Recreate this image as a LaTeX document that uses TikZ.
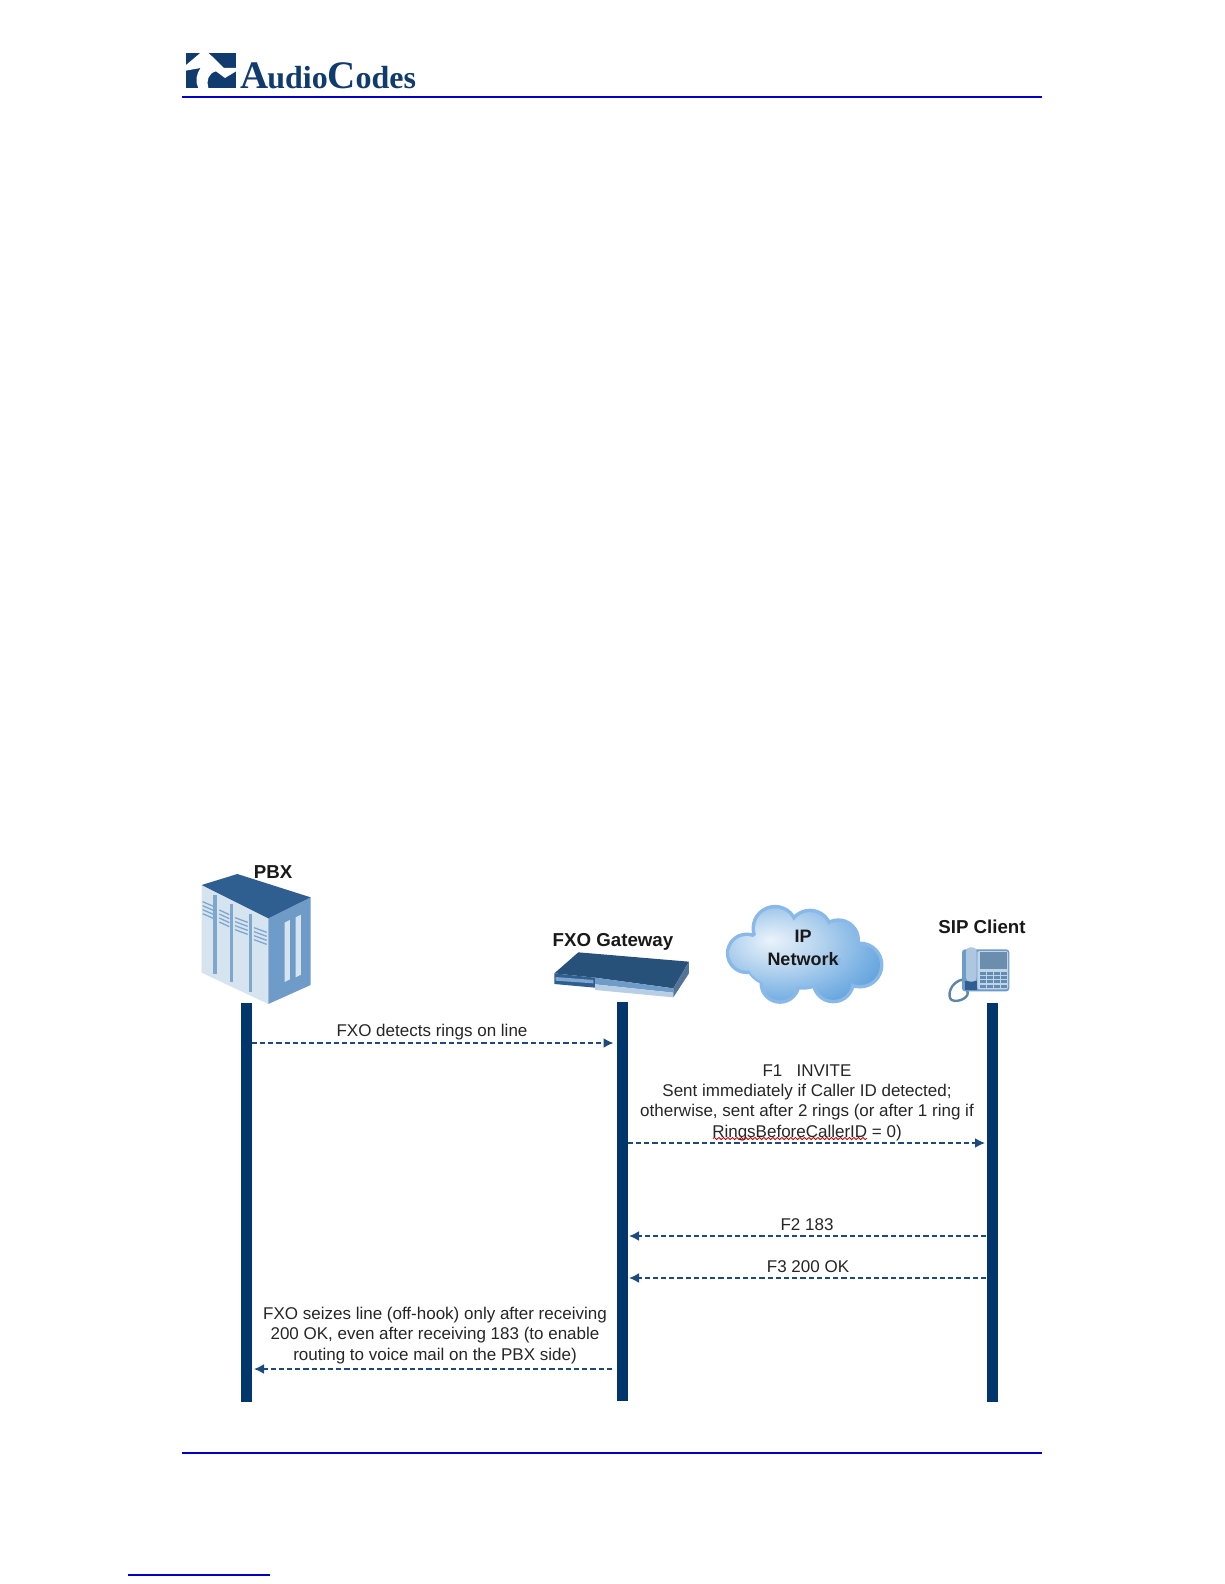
\documentclass[tikz,border=0pt]{standalone}
\usepackage{fontspec}
\setmainfont{Liberation Sans}
\newfontfamily\logofont{Liberation Serif}[BoldFont={Liberation Serif Bold}]
\usetikzlibrary{arrows.meta,decorations.pathmorphing}
\definecolor{navy}{HTML}{00366C}
\definecolor{rule}{HTML}{0000C4}
\definecolor{msgcol}{HTML}{1C4A7C}
\definecolor{logoblue}{HTML}{103B6E}
\definecolor{topblue}{HTML}{2F5F90}
\definecolor{sideblue}{HTML}{6F9BC8}
\definecolor{faceblue}{HTML}{D6E4F0}
\definecolor{slotblue}{HTML}{7FA6CC}
\definecolor{cloudrim}{HTML}{88B9E8}
\definecolor{cA}{HTML}{EAF3FB}
\definecolor{cB}{HTML}{BBD7F0}
\definecolor{cC}{HTML}{7DB3E4}
\definecolor{cD}{HTML}{3F8CD2}
\definecolor{cE}{HTML}{1F6FBF}
\pgfdeclareradialshading{cloudsh}{\pgfpoint{-11.5bp}{8bp}}{
  color(0bp)=(cA);
  color(13bp)=(cB);
  color(28bp)=(cC);
  color(45bp)=(cD);
  color(60bp)=(cE);
  color(80bp)=(cE)}
\tikzset{
  lifeline/.style={fill=navy,draw=none,inner sep=0pt,minimum width=11pt,minimum height=399pt,anchor=north},
  msg/.style={draw=msgcol,line width=1.8pt,dash pattern=on 5.2pt off 3pt,-{Latex[length=10pt,width=10pt,fill=msgcol]}},
  msgtext/.style={font=\fontsize{17pt}{20.3pt}\selectfont,text=black!85,align=center,inner sep=0pt},
  title/.style={font=\fontsize{18.7pt}{23pt}\selectfont\bfseries,text=black!90,align=center,inner sep=0pt},
  pagerule/.style={draw=rule,line width=2pt}
}
\begin{document}
\begin{tikzpicture}[x=1pt,y=-1pt]
\useasboundingbox (0,0) rectangle (1224,1584);
\fill[white] (0,0) rectangle (1224,1584);

% page rules
\coordinate (hl) at (182,97); \coordinate (hr) at (1042,97);
\coordinate (fl) at (182,1453); \coordinate (fr) at (1042,1453);
\coordinate (sl) at (128,1575); \coordinate (sr) at (270,1575);
\draw[pagerule] (hl) -- (hr);
\draw[pagerule] (fl) -- (fr);
\draw[pagerule,line width=1.4pt] (sl) -- (sr);

% logo
\begin{scope}[shift={(180,48)},x=0.3333pt,y=-0.3333pt]
  \fill[logoblue] (17,14) rectangle (168,120);
  \fill[white] (17,52) -- (62,14) -- (85,14) -- (132,60) -- (168,60) -- (168,70) -- (135,90) -- (108,70)
    .. controls (85,75) and (78,100) .. (85,120) -- (55,120)
    .. controls (45,100) and (48,80) .. (62,60) -- (17,68) -- cycle;
\end{scope}
\node[inner sep=0pt,anchor=base west,text=logoblue,font=\logofont\bfseries] (logo) at (240,88.5)
  {\fontsize{39pt}{39pt}\selectfont A\kern-1pt\fontsize{32pt}{32pt}\selectfont udio\fontsize{39pt}{39pt}\selectfont C\kern-0.5pt\fontsize{32pt}{32pt}\selectfont odes};

% PBX icon
\begin{scope}[shift={(180,850)},x=0.3333pt,y=-0.3333pt]
  \fill[faceblue] (65,105) -- (265,205) -- (265,462) -- (65,368) -- cycle;
  \fill[sideblue] (265,205) -- (392,142) -- (392,405) -- (265,462) -- cycle;
  \fill[topblue] (65,105) -- (172,72) -- (392,142) -- (265,205) -- cycle;
  \foreach \x/\a/\b in {105/135/372,155/162/395,212/192/425}
    \draw[slotblue,line width=3.2pt] (\x,\a) -- (\x,\b);
  \foreach \x/\w/\y in {68/32/155,118/30/180,165/38/203,222/38/233}
    \foreach \d in {0,12,24,36}
      \draw[slotblue,line width=1.3pt] (\x,\y+\d) -- (\x+\w,\y+\d+14);
  \fill[faceblue] (314,218) -- (330,210) -- (330,388) -- (314,396) -- cycle;
  \fill[faceblue] (347,202) -- (363,194) -- (363,374) -- (347,382) -- cycle;
\end{scope}
\node[title] (pbxt) at (273,872) {PBX};

% Gateway icon
\begin{scope}[shift={(545,945)},x=0.3333pt,y=-0.3333pt]
  \fill[topblue!85!black] (28,85) -- (100,22) -- (432,50) -- (385,130) -- (150,98) -- cycle;
  \fill[topblue] (28,85) -- (150,98) -- (150,128) -- (28,117) -- cycle;
  \fill[slotblue] (32,96) -- (145,105) -- (145,115) -- (32,107) -- cycle;
  \fill[sideblue] (150,98) -- (385,130) -- (385,143) -- (150,118) -- cycle;
  \fill[faceblue!70!sideblue] (150,118) -- (385,143) -- (385,157) -- (150,135) -- cycle;
  \fill[sideblue!75!black] (385,130) -- (432,50) -- (432,85) -- (385,157) -- cycle;
\end{scope}
\node[title] (gwt) at (613,941.5) {FXO Gateway};

% Cloud
\begin{scope}[shift={(700,890)},x=0.3333pt,y=-0.3333pt]
  \fill[cloudrim]
    (225,115) circle [radius=23.5pt] (330,125) circle [radius=23pt] (415,150) circle [radius=21.7pt]
    (480,225) circle [radius=23.5pt] (400,275) circle [radius=21.7pt] (240,280) circle [radius=20.5pt]
    (140,190) circle [radius=20.8pt] (310,200) circle [radius=33pt] (220,200) circle [radius=30pt];
  \shade[shading=cloudsh]
    (225,115) circle [radius=20pt] (330,125) circle [radius=19.5pt] (415,150) circle [radius=18.2pt]
    (480,225) circle [radius=20pt] (400,275) circle [radius=18.2pt] (240,280) circle [radius=17pt]
    (140,190) circle [radius=17.3pt] (310,200) circle [radius=30pt] (220,200) circle [radius=28pt];
\end{scope}
\node[title,font=\fontsize{18pt}{23pt}\selectfont\bfseries] (cloudt) at (803,947.5) {IP\\Network};

% Phone icon
\begin{scope}[shift={(940,940)},x=0.3333pt,y=-0.3333pt]
  \draw[sideblue!85!black,line width=2.4pt] (70,118) .. controls (30,125) and (20,170) .. (35,180) .. controls (55,190) and (95,170) .. (80,150);
  \fill[sideblue,rounded corners=3pt] (66,28) rectangle (208,154);
  \fill[faceblue!80!sideblue,rounded corners=2pt] (112,33) rectangle (204,148);
  \fill[slotblue!85!black] (120,36) rectangle (200,86);
  \foreach \i in {0,1,2,3} \foreach \j in {0,1,2,3}
    \fill[sideblue!90!black] (120+\i*21,96+\j*12.5) rectangle ++(17,9);
  \fill[topblue] (74,122) rectangle (112,150);
  \fill[faceblue!60!sideblue,rounded corners=4pt] (78,22) rectangle (110,125);
\end{scope}
\node[title] (sipt) at (982,927) {SIP Client};

% Lifelines
\node[lifeline] (pbxbar) at (246,1003) {};
\node[lifeline,minimum height=399.5pt] (gwbar) at (622,1001.5) {};
\node[lifeline] (sipbar) at (992.5,1003) {};

% Message anchors
\coordinate (m1a) at (pbxbar.east |- 0,1043);
\coordinate (m1b) at (613.5,1043);
\coordinate (m2a) at (gwbar.east |- 0,1143);
\coordinate (m2b) at (985,1143);
\coordinate (m3a) at (986,1236);
\coordinate (m3b) at (629,1236);
\coordinate (m4a) at (986,1278);
\coordinate (m4b) at (629,1278);
\coordinate (m5a) at (612,1369);
\coordinate (m5b) at (254,1369);

\draw[msg] (m1a) -- (m1b);
\draw[msg] (m2a) -- (m2b);
\draw[msg] (m3a) -- (m3b);
\draw[msg] (m4a) -- (m4b);
\draw[msg] (m5a) -- (m5b);

% Labels
\node[msgtext] (l1) at (432,1032) {FXO detects rings on line};
\node[msgtext] (l2) at (807,1102.5) {F1\ \ \ INVITE\\Sent immediately if Caller ID detected;\\otherwise, sent after 2 rings (or after 1 ring if\\RingsBeforeCallerID = 0)};
\node[msgtext] (l3) at (807,1225) {F2 183};
\node[msgtext] (l4) at (808,1267) {F3 200 OK};
\node[msgtext] (l5) at (435,1335.5) {FXO seizes line (off-hook) only after receiving\\200 OK, even after receiving 183 (to enable\\routing to voice mail on the PBX side)};

% spell-check squiggle
\coordinate (sq1) at (713,1138.5); \coordinate (sq2) at (867,1138.5);
\draw[red!80!black,line width=0.8pt,decorate,decoration={snake,amplitude=1.1pt,segment length=4.5pt}] (sq1) -- (sq2);
\end{tikzpicture}
\end{document}
